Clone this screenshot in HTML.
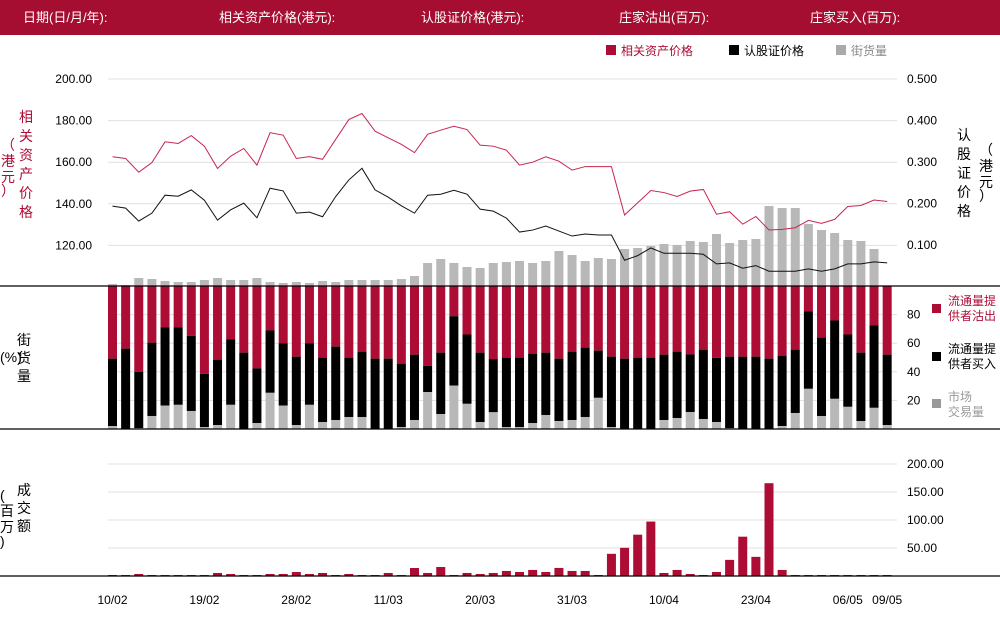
<!DOCTYPE html>
<html><head><meta charset="utf-8"><style>
body{margin:0;width:1000px;height:620px;overflow:hidden;background:#fff;font-family:"Liberation Sans","Noto Sans CJK SC",sans-serif}
svg text{font-family:"Liberation Sans","Noto Sans CJK SC",sans-serif}
</style></head><body>
<svg id="c" width="1000" height="620" xmlns="http://www.w3.org/2000/svg">
<rect x="0" y="0" width="1000" height="35" fill="#a50e31"/>
<g fill="#fff" font-size="13">
<text x="23" y="22">日期(日/月/年):</text>
<text x="219" y="22">相关资产价格(港元):</text>
<text x="421" y="22">认股证价格(港元):</text>
<text x="619" y="22">庄家沽出(百万):</text>
<text x="810" y="22">庄家买入(百万):</text>
</g>
<g font-size="12">
<rect x="606" y="45" width="10" height="10" fill="#ad0c35"/>
<text x="621" y="55" fill="#ad0c35">相关资产价格</text>
<rect x="729" y="45" width="10" height="10" fill="#000"/>
<text x="744" y="55" fill="#000">认股证价格</text>
<rect x="836" y="45" width="10" height="10" fill="#aaa"/>
<text x="851" y="55" fill="#888">街货量</text>
</g>
<g font-size="14">
<text x="25" y="122" fill="#ad0c35"><tspan x="19" dy="0">相</tspan><tspan x="19" dy="19">关</tspan><tspan x="19" dy="19">资</tspan><tspan x="19" dy="19">产</tspan><tspan x="19" dy="19">价</tspan><tspan x="19" dy="19">格</tspan></text>
<text fill="#ad0c35"><tspan x="1" y="150">（</tspan><tspan x="1" dy="16">港</tspan><tspan x="1" dy="16">元</tspan><tspan x="1" dy="14">）</tspan></text>
<text fill="#000"><tspan x="957" y="140">认</tspan><tspan x="957" dy="19">股</tspan><tspan x="957" dy="19">证</tspan><tspan x="957" dy="19">价</tspan><tspan x="957" dy="19">格</tspan></text>
<text fill="#000"><tspan x="979" y="155">（</tspan><tspan x="979" dy="16">港</tspan><tspan x="979" dy="16">元</tspan><tspan x="979" dy="14">）</tspan></text>
<text fill="#000"><tspan x="17" y="345">街</tspan><tspan x="17" dy="18">货</tspan><tspan x="17" dy="18">量</tspan></text>
<text fill="#000"><tspan x="0" y="362">(%)</tspan></text>
<text fill="#000"><tspan x="17" y="495">成</tspan><tspan x="17" dy="18">交</tspan><tspan x="17" dy="18">额</tspan></text>
<text fill="#000"><tspan x="0" y="500">(</tspan><tspan x="0" dy="16">百</tspan><tspan x="0" dy="16">万</tspan><tspan x="0" dy="14">)</tspan></text>
</g>
<g font-size="12">
<rect x="932" y="304" width="9" height="9" fill="#ad0c35"/>
<text fill="#ad0c35"><tspan x="948" y="305">流通量提</tspan><tspan x="948" dy="15">供者沽出</tspan></text>
<rect x="932" y="352" width="9" height="9" fill="#000"/>
<text fill="#000"><tspan x="948" y="353">流通量提</tspan><tspan x="948" dy="15">供者买入</tspan></text>
<rect x="932" y="399" width="9" height="9" fill="#999"/>
<text fill="#999"><tspan x="948" y="401">市场</tspan><tspan x="948" dy="15">交易量</tspan></text>
</g>
<g id="plot"></g>
</svg>
<script>
const dates=["10/02","19/02","28/02","11/03","20/03","31/03","10/04","23/04","06/05","09/05"];
const dateIdx=[0,7,14,21,28,35,42,49,56,59];
const underlying=[162.6,161.8,155.2,159.8,169.8,169,172.8,167.7,157,162.9,166.6,158.6,174.2,173,161.8,162.7,161.4,171,180.5,183.4,174.9,171.7,168.6,164.6,173.4,175.4,177.3,175.7,168.2,167.7,165.8,158.6,160,162.6,160.5,156.2,157.9,157.9,157.9,134.6,140.5,146.4,145.4,143.5,146.1,146.9,135,136.2,130.2,133.9,127.4,127.7,128.5,132,130.6,132.5,138.7,139.2,141.8,141.1];
const warrant=[0.1936,0.1888,0.1576,0.1768,0.22,0.2176,0.2328,0.208,0.16,0.1848,0.2008,0.1656,0.2368,0.2304,0.1768,0.1792,0.168,0.2168,0.2568,0.2848,0.2328,0.2152,0.1944,0.1768,0.22,0.2224,0.232,0.2224,0.1864,0.1816,0.1648,0.1312,0.136,0.1456,0.1336,0.1216,0.1264,0.124,0.124,0.0632,0.0744,0.0928,0.08,0.08,0.08,0.0776,0.0544,0.0568,0.044,0.0504,0.0368,0.0368,0.0368,0.0424,0.0368,0.0424,0.0544,0.0544,0.0592,0.0568];
const outstanding=[2,1,8,7,5,4,4,6,8,6,6,8,4,3,4,3,5,4,6,6,6,6,7,10,23,27,23,19,18,23,24,25,23,25,35,31,25,28,27,37,38,40,42,41,45,44,52,43,46,47,80,78,78,62,56,53,46,45,37,0];
const marketPct=[2.1,0,0.7,9.1,16.4,16.9,12.6,1.4,2.8,16.9,0,4.2,25.3,16.4,2.8,16.9,4.9,6.3,8.4,8.4,0,0,1.4,6.3,25.8,10.5,30.4,17.6,4.9,11.7,1.4,1.4,4.2,9.8,5.6,6.3,8.4,21.8,1.4,0,0,0,6.3,7.7,11.9,7,4.9,0.7,0,0,0,2.1,11.2,28.1,9.1,21.1,15.5,5.6,14.8,2.8];
const buyPct=[47.1,56.2,39.3,51.3,54.8,54.1,52.5,37.2,45.7,45.7,53.4,38.2,43.6,43.6,47.8,42.9,45,51.3,41.5,45.7,49.2,49.2,44.3,45.7,18.3,42.9,48.5,48.5,48.5,37.2,48.5,48.5,48.5,43.6,43.6,47.8,48.5,33,49.2,49.2,49.9,49.9,45.7,46.4,40.3,48.5,44.9,49.9,50.6,50.6,49.2,49.2,44.3,54.1,54.8,54.8,50.6,47.8,57.6,49.2];
const turnover=[1.8,1.8,3.6,1.8,1.8,1.8,1.8,1.8,5.4,3.6,1.8,1.8,3.6,3.6,7.1,3.6,5.4,1.8,3.6,1.8,1.8,5.4,1.8,14.3,5.4,16.1,1.8,5.4,3.6,5.4,9,7.2,10.8,7.2,14.4,9,9,1.8,39.6,50.4,73.8,97.2,5.4,10.8,3.6,1.8,7.2,28.8,70.2,34.2,165.7,10.8,1.8,1.8,1.8,1.8,1.8,1.8,1.8,1.8];
const leftTicks=[200,180,160,140,120];
const rightTicks=[0.5,0.4,0.3,0.2,0.1];
const pctTicks=[80,60,40,20];
const turnTicks=[200,150,100,50];

const NS="http://www.w3.org/2000/svg";
const plot=document.getElementById('plot');
const x=i=>112.5+i*13.13;
const yL=v=>79+(200-v)*2.08;
const yR=v=>79+(0.5-v)*415;
const yV=v=>286-v;
const yP=v=>429-v*1.43;
const yT=v=>576-v*0.56;
const BW=9;
function mk(tag,attrs,parent){const e=document.createElementNS(NS,tag);for(const k in attrs)e.setAttribute(k,attrs[k]);(parent||plot).appendChild(e);return e;}

// gridlines & ticks
leftTicks.forEach((t,k)=>{
 const g=mk('line',{x1:108,x2:897,y1:yL(t),y2:yL(t),stroke:'#e0e0e0'});
 
 
 const tl=mk('text',{x:92,y:yL(t)+4,'text-anchor':'end','font-size':12,fill:'#000'});tl.textContent=t.toFixed(2);
 
 
});
rightTicks.forEach(t=>{
 const tl=mk('text',{x:907,y:yR(t)+4,'font-size':12,fill:'#000'});tl.textContent=t.toFixed(3);
 
 
});
pctTicks.forEach(t=>{
 const g=mk('line',{x1:108,x2:897,y1:yP(t),y2:yP(t),stroke:'#e0e0e0'});
 
 
 const tl=mk('text',{x:907,y:yP(t)+4,'font-size':12,fill:'#000'});tl.textContent=t;
 
 
});
turnTicks.forEach(t=>{
 const g=mk('line',{x1:108,x2:897,y1:yT(t),y2:yT(t),stroke:'#e0e0e0'});
 
 
 const tl=mk('text',{x:907,y:yT(t)+4,'font-size':12,fill:'#000'});tl.textContent=t.toFixed(2);
 
 
});
// bars
for(let i=0;i<60;i++){
 const bx=x(i)-BW/2;
 if(outstanding[i]>0){const r=mk('rect',{x:bx,y:yV(outstanding[i]),width:BW,height:outstanding[i],fill:'#b8b8b8'});
 
 }
 const g=marketPct[i],b=buyPct[i];
 const r1=mk('rect',{x:bx,y:yP(100),width:BW,height:yP(g+b)-yP(100),fill:'#ad0c35'});
 
 
 const r2=mk('rect',{x:bx,y:yP(g+b),width:BW,height:yP(g)-yP(g+b),fill:'#000'});
 
 
 if(g>0){const r3=mk('rect',{x:bx,y:yP(g),width:BW,height:yP(0)-yP(g),fill:'#b8b8b8'});
 
 }
 const r4=mk('rect',{x:bx,y:yT(turnover[i]),width:BW,height:yT(0)-yT(turnover[i]),fill:'#ad0c35'});
 
 
}
// lines
const p1=mk('polyline',{points:underlying.map((v,i)=>x(i)+','+yL(v)).join(' '),fill:'none',stroke:'#c8264f','stroke-width':1});


const p2=mk('polyline',{points:warrant.map((v,i)=>x(i)+','+yR(v)).join(' '),fill:'none',stroke:'#111','stroke-width':1});


// separators
[286,429,576].forEach(yy=>{const l=mk('line',{x1:0,x2:1000,y1:yy,y2:yy,stroke:'#000','stroke-width':1.2});
 
 });
// date labels
dates.forEach((d,k)=>{const t=mk('text',{x:x(dateIdx[k]),y:604,'text-anchor':'middle','font-size':12,fill:'#000'});t.textContent=d;
 
 });
</script>
</body></html>
